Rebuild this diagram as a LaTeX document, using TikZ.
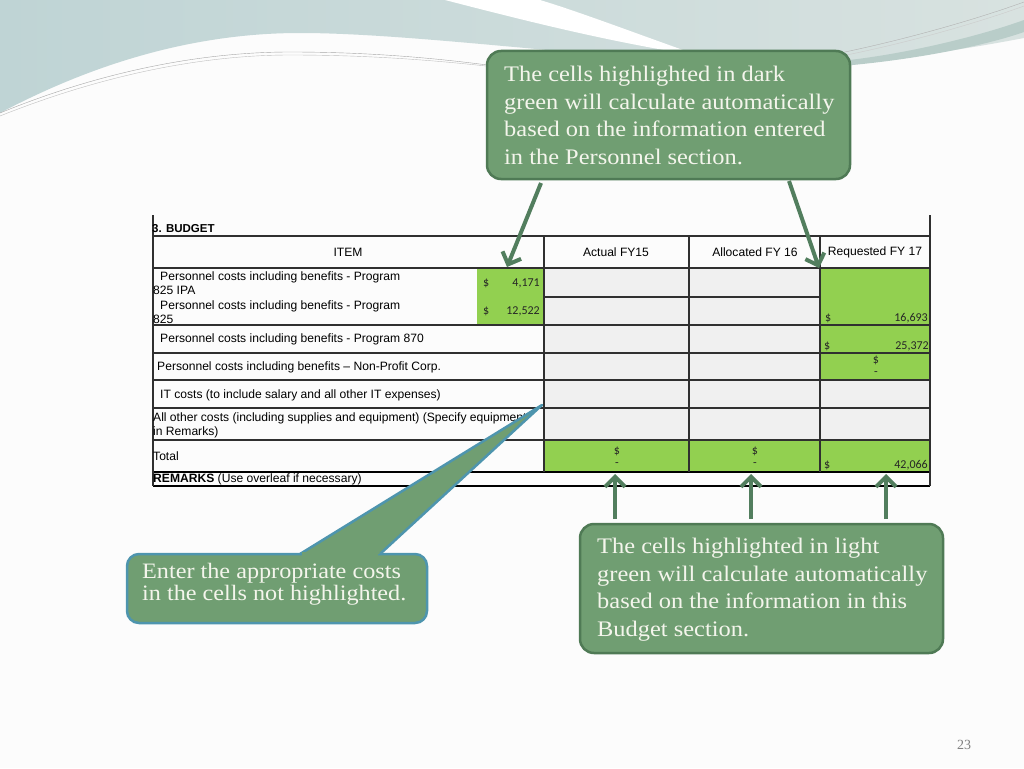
\documentclass[tikz,border=0pt]{standalone}
\usepackage{fontspec}
\setmainfont{Liberation Serif}
\newfontfamily\boxfont[FakeStretch=1.1]{Liberation Serif}
\newfontfamily\tabfont{Liberation Sans}
\newfontfamily\numfont{Carlito}
\usetikzlibrary{arrows.meta}
\definecolor{boxfill}{HTML}{709E72}
\definecolor{boxedge}{HTML}{4F7A55}
\definecolor{calloutedge}{HTML}{4E95AE}
\definecolor{cellgreen}{HTML}{92D050}
\definecolor{cellgrey}{HTML}{F0F0F0}
\definecolor{arrowgreen}{HTML}{527E5E}
\definecolor{boxtext}{HTML}{F4F5EC}
\definecolor{bgA}{HTML}{BFD4D5}
\definecolor{bgB}{HTML}{D8E2E0}
\definecolor{stripe}{HTML}{B9CDC9}
\definecolor{gridline}{HTML}{303030}
\definecolor{pagebg}{HTML}{FCFCFC}
\begin{document}
\begin{tikzpicture}[x=1pt,y=-1pt,
  note/.style={draw=boxedge, line width=2.5pt, fill=boxfill, rounded corners=14pt, inner sep=0pt},
  enternote/.style={draw=calloutedge, line width=2.5pt, fill=boxfill, rounded corners=12pt, inner sep=0pt},
  notetext/.style={text=boxtext, font=\boxfont\fontsize{22.2}{27.5}\selectfont, align=left, inner sep=0pt, anchor=west},
  entertext/.style={text=boxtext, font=\boxfont\fontsize{22}{22}\selectfont, align=left, inner sep=0pt, anchor=west},
  pointer/.style={draw=arrowgreen, line width=4pt, -{Straight Barb[length=10pt,width=20pt]}},
  grid/.style={draw=gridline, line width=1.1pt},
  gridthick/.style={draw=black, line width=1.6pt},
  cell/.style={font=\tabfont\fontsize{12.1}{14}\selectfont, inner sep=0pt, anchor=west, align=left},
  head/.style={font=\tabfont\fontsize{12.1}{14}\selectfont, inner sep=0pt},
  num/.style={font=\numfont\fontsize{12}{14}\selectfont, inner sep=0pt, text=black!85}
]
\useasboundingbox (0,0) rectangle (1024,768);
\fill[pagebg] (0,0) rectangle (1024,768);

% background swoosh
\shade[left color=bgA, right color=bgB] (0,0) -- (1024,0) -- (1024,38)
  .. controls (950,52) and (860,66) .. (760,64)
  .. controls (620,62) and (420,33) .. (300,33)
  .. controls (200,33) and (100,60) .. (0,113) -- cycle;
\fill[white] (445,0) .. controls (530,22) and (610,42) .. (700,56)
  .. controls (640,35) and (580,12) .. (540,0) -- cycle;
\fill[stripe] (830,67) .. controls (920,60) and (990,44) .. (1024,32)
  -- (1024,20) .. controls (980,36) and (900,56) .. (830,62) -- cycle;
\draw[line width=0.4pt, draw=gray!70] (0,113) .. controls (100,72) and (200,52) .. (290,52)
  .. controls (380,52) and (450,60) .. (495,66);
\draw[line width=0.4pt, draw=gray!50] (0,116) .. controls (100,76) and (200,55) .. (290,55)
  .. controls (380,55) and (450,62) .. (495,67);
\draw[line width=0.4pt, draw=gray!60] (815,58) .. controls (900,42) and (980,18) .. (1024,2);
\draw[line width=0.4pt, draw=gray!40] (815,61) .. controls (900,46) and (980,22) .. (1024,6);

% table fills
\fill[cellgrey] (544,268) rectangle (820,440);
\fill[cellgrey] (820,380) rectangle (930,440);
\fill[cellgreen] (477,268) rectangle (544,325);
\fill[cellgreen] (820,268) rectangle (930,380);
\fill[cellgreen] (544,440) rectangle (930,472);

% table lines
\draw[grid] (153,236) -- (930,236);
\draw[grid] (153,268) -- (930,268);
\draw[grid] (544,297) -- (820,297);
\draw[grid] (153,325) -- (930,325);
\draw[grid] (153,353) -- (930,353);
\draw[grid] (153,380) -- (930,380);
\draw[grid] (153,408) -- (930,408);
\draw[grid] (153,440) -- (930,440);
\draw[gridthick] (153,472) -- (930,472);
\draw[gridthick] (153,486) -- (930,486);
\draw[grid] (153,215) -- (153,486);
\draw[grid] (930,215) -- (930,486);
\draw[grid] (544,236) -- (544,472);
\draw[grid] (689,236) -- (689,472);
\draw[grid] (820,236) -- (820,472);

% table texts
\node[cell, font=\tabfont\bfseries\fontsize{11.5}{14}\selectfont] (budget) at (152,229) {3. BUDGET};
\node[head] (item) at (348,252) {ITEM};
\node[head] (actual) at (616,252) {Actual FY15};
\node[head] (alloc) at (755,252) {Allocated FY 16};
\node[head] (req) at (875,252) {Requested FY 17};
\node[cell] (r1) at (153,283) {\hspace*{7pt}Personnel costs including benefits - Program\\825 IPA};
\node[cell] (r2) at (153,312) {\hspace*{7pt}Personnel costs including benefits - Program\\825};
\node[cell] (r3) at (160,339) {Personnel costs including benefits - Program 870};
\node[cell] (r4) at (157,367) {Personnel costs including benefits – Non-Profit Corp.};
\node[cell] (r5) at (160,395) {IT costs (to include salary and all other IT expenses)};
\node[cell] (r6) at (153,425) {All other costs (including supplies and equipment) (Specify equipment\\in Remarks)};
\node[cell] (r7) at (153,456) {Total};
\node[cell] (r8) at (153,479) {\textbf{REMARKS} (Use overleaf if necessary)};

\node[num, anchor=west] (d1) at (483,283) {\$};
\node[num, anchor=east] (v1) at (540,283) {4,171};
\node[num, anchor=west] (d2) at (483,311) {\$};
\node[num, anchor=east] (v2) at (540,311) {12,522};
\node[num, anchor=west] (d3) at (825,318) {\$};
\node[num, anchor=east] (v3) at (928,318) {16,693};
\node[num, anchor=west] (d4) at (824,346) {\$};
\node[num, anchor=east] (v4) at (929,346) {25,372};
\node[num] (d5) at (876,360) {\$};
\node[num] (v5) at (876,374) {-};
\node[num] (d6) at (617,451) {\$};
\node[num] (v6) at (617,465) {-};
\node[num] (d7) at (755,451) {\$};
\node[num] (v7) at (755,465) {-};
\node[num, anchor=west] (d8) at (824,465) {\$};
\node[num, anchor=east] (v8) at (928,465) {42,066};

% arrows from the top note
\coordinate (t1s) at (541,183);
\coordinate (t1e) at (507,267);
\coordinate (t2s) at (789,181);
\coordinate (t2e) at (819,268);
\draw[pointer] (t1s) -- (t1e);
\draw[pointer] (t2s) -- (t2e);

% top note
\node[note, minimum width=363pt, minimum height=128pt] (topbox) at (668.5,115) {};
\node[notetext] (toptext) at (504,115.5) {The cells highlighted in dark\\green will calculate automatically\\based on the information entered\\in the Personnel section.};

% bottom-right note
\node[note, minimum width=363pt, minimum height=129pt] (lightbox) at (761.5,588.5) {};
\node[notetext] (lighttext) at (597,589.5) {The cells highlighted in light\\green will calculate automatically\\based on the information in this\\Budget section.};

% up arrows
\coordinate (u1s) at (615,519);
\coordinate (u1e) at (615,474);
\coordinate (u2s) at (751,519);
\coordinate (u2e) at (751,474);
\coordinate (u3s) at (886,519);
\coordinate (u3e) at (886,474);
\draw[pointer] (u1s) -- (u1e);
\draw[pointer] (u2s) -- (u2e);
\draw[pointer] (u3s) -- (u3e);

% callout (bottom-left)
\node[enternote, minimum width=300pt, minimum height=69pt] (enterbox) at (277,588.5) {};
\coordinate (ctip) at (542,405);
\coordinate (cbl) at (300,554);
\coordinate (cbr) at (380,554);
\fill[boxfill] (cbl) -- (ctip) -- (cbr) -- cycle;
\draw[draw=calloutedge, line width=2.5pt, line join=round] (cbl) -- (ctip) -- (cbr);
\fill[boxfill] (301.8,551.5) rectangle (378.2,557.5);
\node[entertext] (entertxt) at (142,584) {Enter the appropriate costs\\in the cells not highlighted.};

% page number
\node[font=\fontsize{14}{14}\selectfont, text=gray, inner sep=0pt] (pagenum) at (964,745) {23};
\end{tikzpicture}
\end{document}
